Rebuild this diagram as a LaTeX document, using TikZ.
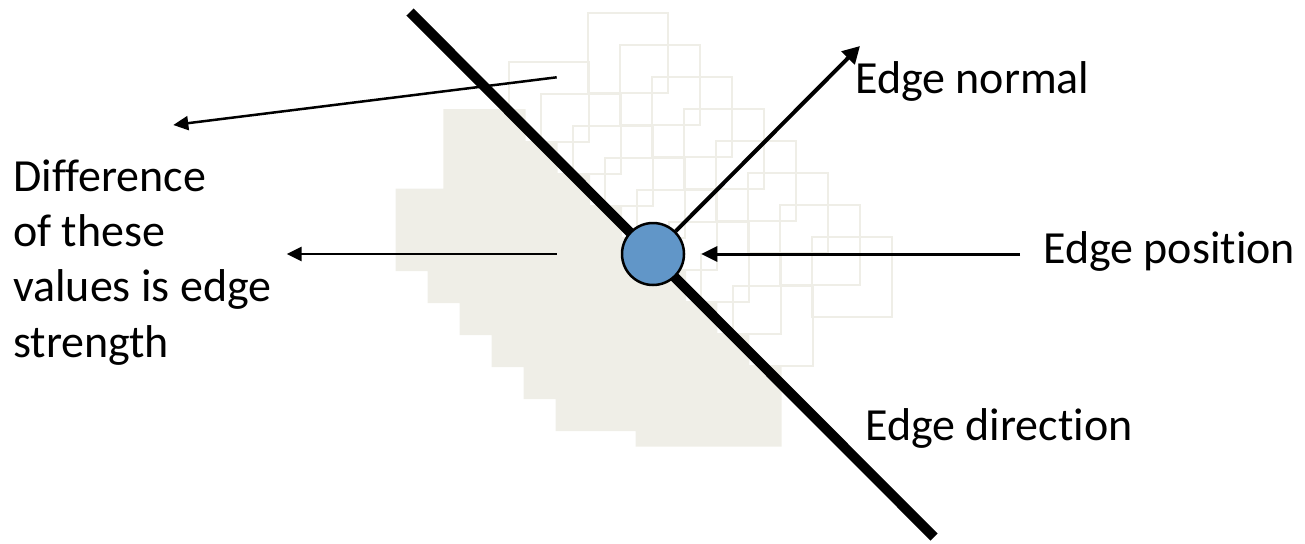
\documentclass[tikz,border=0pt]{standalone}
\usepackage{fontspec}
\setmainfont{Carlito}[Ligatures=NoCommon]
\usetikzlibrary{arrows.meta}
\definecolor{haikei}{RGB}{239,238,231}
\definecolor{maru}{RGB}{97,150,200}
\tikzset{
  waku/.style={draw=haikei, line width=2pt},
  yajirushi/.style={line width=2.5pt, -{Triangle[length=15pt,width=14pt]}},
  moji/.style={anchor=base west, inner sep=0pt, font=\fontsize{46}{55.3}\selectfont},
}

\begin{document}
\begin{tikzpicture}[x=1pt, y=-1pt]
\useasboundingbox (0, 0) rectangle (1305, 543);
% 枠だけの四角
\foreach \i in {0,...,7}{
	\draw[waku] (588+32*\i, 13+32*\i) rectangle ++(80, 80);
	\draw[waku] (509+32*\i, 62+32*\i) rectangle ++(80, 80);
}
% 塗りつぶしの階段
\fill[haikei] (443.3, 109) -- (525.7, 109) -- (525.7, 141.7) -- (557.7, 141.7)
	-- (557.7, 173.7) -- (590, 173.7) -- (590, 205.7) -- (622, 205.7)
	-- (622, 237.7) -- (654, 237.7) -- (654, 269.7) -- (686, 269.7)
	-- (686, 301.7) -- (717.3, 301.7) -- (717.3, 333.7) -- (749.3, 333.7)
	-- (749.3, 365.7) -- (781.7, 365.7) -- (781.7, 446.7) -- (635.7, 446.7)
	-- (635.7, 431) -- (555.7, 431) -- (555.7, 399) -- (523.7, 399)
	-- (523.7, 367) -- (491.7, 367) -- (491.7, 335) -- (459.7, 335)
	-- (459.7, 303) -- (427.7, 303) -- (427.7, 271) -- (395.7, 271)
	-- (395.7, 188.7) -- (443.3, 188.7) -- cycle;
% エッジの線
\coordinate (hashiA) at (410, 12);
\coordinate (hashiB) at (934, 537);
\draw[line width=10pt] (hashiA) -- (hashiB);
% エッジの位置
\node[circle, draw, fill=maru, line width=2.5pt, minimum size=62pt, inner sep=0pt] (ichi) at (653, 254) {};
% 法線
\coordinate (housen) at (860, 46);
\draw[line width=4pt, -{Triangle[length=17pt, width=18pt]}] (ichi) -- (housen);
% ラベル
\node[moji] (lnormal) at (855, 93) {Edge normal};
\node[moji] (lpos) at (1043, 263) {Edge position};
\node[moji] (ldir) at (865, 440) {Edge direction};
\node[moji, align=left] (lsa) at (13, 357) {Difference\\of these\\values is edge\\strength};
% 位置の矢印
\coordinate (pstart) at (1020, 254);
\draw[line width=3pt, -{Triangle[length=16pt, width=15pt]}, shorten >=16pt] (pstart) -- (ichi.east);
% 左の矢印
\coordinate (ueA) at (556.7, 77.3);
\coordinate (ueB) at (173.3, 125);
\coordinate (nakaA) at (556.7, 254);
\coordinate (nakaB) at (286.7, 254);
\draw[yajirushi] (ueA) -- (ueB);
\draw[yajirushi] (nakaA) -- (nakaB);
\end{tikzpicture}
\end{document}
